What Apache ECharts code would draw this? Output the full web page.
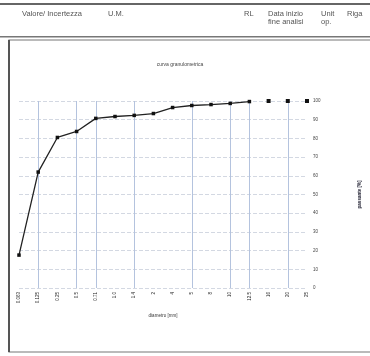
<!DOCTYPE html>
<html><head><meta charset="utf-8">
<script src="https://cdn.jsdelivr.net/npm/echarts@6/dist/echarts.min.js"></script>
<style>html,body{margin:0;padding:0;background:#fff}#c{width:370px;height:356px}</style>
</head><body><div id="c"></div>
<script>
var categories = ["0.063","0.125","0.25","0.5","0.71","1.0","1.4","2","4","5","8","10","12.5","16","20","25"];
var passante = [17.6, 62, 80.5, 83.7, 90.7, 91.7, 92.3, 93.3, 96.5, 97.6, 98.1, 98.7, 99.7, null, null, null];
var passanteIsolated = [null, null, null, null, null, null, null, null, null, null, null, null, null, 100, 100, 100];
var yTicks = [0, 10, 20, 30, 40, 50, 60, 70, 80, 90, 100];
var strongLines = [1, 3, 4, 6, 9, 11, 12, 14];

var chart = echarts.init(document.getElementById('c'));
var hdr = {fill:'#555', fontSize:7.5, fontFamily:'Liberation Sans'};
chart.setOption({
  animation:false,
  title:{text:'curva granulometrica', left:175, top:57, textAlign:'center',
    textStyle:{fontSize:5, fontWeight:'normal', color:'#444', fontFamily:'Liberation Sans'}},
  grid:{left:19, right:63, top:101, bottom:68},
  xAxis:{type:'category', data:categories, boundaryGap:false,
    name:'diametro [mm]', nameLocation:'middle', nameGap:25,
    nameTextStyle:{fontSize:4.5, color:'#333'},
    axisLine:{show:false}, axisTick:{show:false},
    axisLabel:{rotate:90, fontSize:4.5, color:'#222', margin:4, interval:0},
    splitLine:{show:true, interval:function(i){return strongLines.indexOf(i)>=0;},
      lineStyle:{color:'#b4c3de', width:1}}},
  yAxis:{type:'value', position:'right', min:0, max:100, interval:10,
    name:'passante [%]', nameLocation:'middle', nameGap:50, nameRotate:90,
    nameTextStyle:{fontSize:4.5, color:'#223', fontWeight:'bold'},
    axisLine:{show:false}, axisTick:{show:false},
    axisLabel:{fontSize:4.5, color:'#444', margin:6},
    splitLine:{lineStyle:{color:'#d3d8e2', type:'dashed', width:1}}},
  series:[
    {type:'line', data:passante, symbol:'rect', symbolSize:3.5, connectNulls:false,
     lineStyle:{color:'#222', width:1.3}, itemStyle:{color:'#111'}},
    {type:'line', data:passanteIsolated, symbol:'rect', symbolSize:4,
     lineStyle:{width:0}, itemStyle:{color:'#111'}}
  ],
  graphic:[
    {type:'rect', shape:{x:0,y:3,width:370,height:2}, style:{fill:'#666'}},
    {type:'rect', shape:{x:0,y:36,width:370,height:1.5}, style:{fill:'#777'}},
    {type:'rect', shape:{x:9,y:40,width:370,height:312}, style:{fill:'none', stroke:'#777', lineWidth:1.2}},
    {type:'rect', shape:{x:8,y:40,width:2,height:312}, style:{fill:'#555'}},
    {type:'text', x:22, y:10, style:Object.assign({text:'Valore/ Incertezza'}, hdr)},
    {type:'text', x:108, y:10, style:Object.assign({text:'U.M.'}, hdr)},
    {type:'text', x:244, y:10, style:Object.assign({text:'RL'}, hdr)},
    {type:'text', x:268, y:10, style:Object.assign({text:'Data inizio\nfine analisi', lineHeight:8}, hdr)},
    {type:'text', x:321, y:10, style:Object.assign({text:'Unit\nop.', lineHeight:8}, hdr)},
    {type:'text', x:347, y:10, style:Object.assign({text:'Riga'}, hdr)}
  ]
});
</script></body></html>
